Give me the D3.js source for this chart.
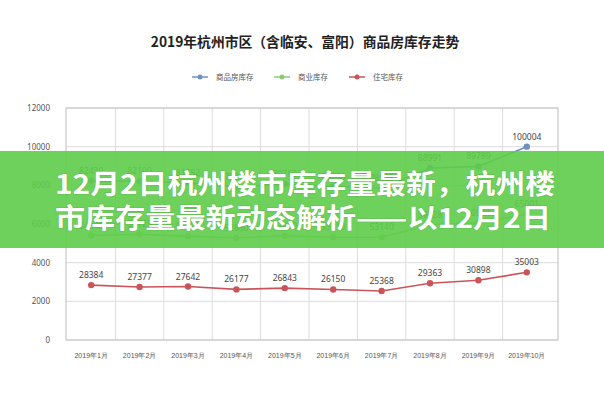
<!DOCTYPE html>
<html><head><meta charset="utf-8">
<script src="https://cdn.jsdelivr.net/npm/d3@7/dist/d3.min.js"></script>
<style>
html,body{margin:0;padding:0;background:#fff;}
svg{display:block;font-family:"Noto Sans CJK SC","Noto Sans",sans-serif;}
</style></head>
<body>
<svg id="c" width="604" height="400"></svg>
<script>
const title = "2019年杭州市区（含临安、富阳）商品房库存走势";
const banner = ["12月2日杭州楼市库存量最新，杭州楼", "市库存量最新动态解析——以12月2日"];
const months = ["2019年1月","2019年2月","2019年3月","2019年4月","2019年5月","2019年6月","2019年7月","2019年8月","2019年9月","2019年10月"];
const seriesNames = ["商品房库存","商业库存","住宅库存"];
const totalLabels = [82430, 82100, 81252, 79057, 80763, 79260, 78508, 88991, 89789, 100004];
const commercialLabels = [54046, 54723, 53610, 52880, 53920, 53110, 53140, 59628, 60591, 65001];
const residentialLabels = [28384, 27377, 27642, 26177, 26843, 26150, 25368, 29363, 30898, 35003];
const yTicks = [0, 2000, 4000, 6000, 8000, 10000, 12000];
const colors = ["#7090c0", "#8cc878", "#c9555a"];

const svg = d3.select("#c");
const L = 66, R = 558, T = 108, B = 340;
const x = d3.scaleBand().domain(months).range([67, 551]);
const y = d3.scaleLinear().domain([0, 12000]).range([B, T]);

// title
svg.append("text").attr("x", 305).attr("y", 47).attr("text-anchor", "middle")
  .attr("font-size", 13.8).attr("font-weight", "bold").attr("fill", "#222").text(title);

// legend
const legX = [200, 282, 357];
seriesNames.forEach((n, i) => {
  const g = svg.append("g").attr("transform", `translate(${legX[i]},77)`);
  g.append("line").attr("x1", -8).attr("x2", 8).attr("stroke", colors[i]).attr("stroke-width", 1.5);
  g.append("circle").attr("r", 2.5).attr("fill", colors[i]);
  g.append("text").attr("x", 16).attr("y", 2.5).attr("font-size", 7.5).attr("fill", "#555").text(n);
});

// grid
const grid = svg.append("g");
yTicks.forEach(t => {
  grid.append("line").attr("x1", L).attr("x2", R).attr("y1", y(t)).attr("y2", y(t))
    .attr("stroke", "#dcdcdc").attr("stroke-width", 1);
});
months.forEach((m, i) => {
  if (i === 0) return;
  grid.append("line").attr("x1", x(m)).attr("x2", x(m)).attr("y1", T).attr("y2", B)
    .attr("stroke", "#dcdcdc").attr("stroke-width", 1);
});
grid.append("rect").attr("x", L).attr("y", T).attr("width", R - L).attr("height", B - T)
  .attr("fill", "none").attr("stroke", "#c8c8c8").attr("stroke-width", 1.2);

// y axis
const yAxis = d3.axisLeft(y).tickValues(yTicks).tickSize(0).tickPadding(16).tickFormat(d3.format("d"));
const ya = svg.append("g").attr("transform", `translate(${L},0)`).call(yAxis);
ya.select(".domain").remove();
ya.selectAll("text").attr("font-size", 8).attr("fill", "#555").attr("font-family", "Noto Sans, sans-serif");

// x axis
const xAxis = d3.axisBottom(x).tickSize(0).tickPadding(13);
const xa = svg.append("g").attr("transform", `translate(0,${B})`).call(xAxis);
xa.select(".domain").remove();
xa.selectAll("text").attr("font-size", 7).attr("fill", "#555");

// series
const data = [totalLabels, commercialLabels, residentialLabels];
const cx = m => x(m) + x.bandwidth() / 2;
data.forEach((vals, si) => {
  const pts = vals.map((v, i) => ({ m: months[i], v: v / 10, label: v }));
  svg.append("path").datum(pts)
    .attr("d", d3.line().x(d => cx(d.m)).y(d => y(d.v)))
    .attr("fill", "none").attr("stroke", colors[si]).attr("stroke-width", 1.6);
  svg.selectAll(null).data(pts).enter().append("circle")
    .attr("cx", d => cx(d.m)).attr("cy", d => y(d.v)).attr("r", 3.2).attr("fill", colors[si]);
  svg.selectAll(null).data(pts).enter().append("text")
    .attr("x", d => cx(d.m)).attr("y", d => y(d.v) - 7).attr("text-anchor", "middle")
    .attr("font-size", 8.5).attr("fill", "#444").attr("font-family", "Noto Sans, sans-serif")
    .text(d => d.label);
});

// banner overlay
svg.append("rect").attr("x", 0).attr("y", 151).attr("width", 604).attr("height", 97)
  .attr("fill", "#5ecc4a").attr("opacity", 0.9);
const by = [194, 228];
const bx = [[55, 500], [55, 496]];
banner.forEach((t, i) => {
  svg.append("text").attr("x", bx[i][0]).attr("y", by[i])
    .attr("textLength", bx[i][1]).attr("lengthAdjust", "spacingAndGlyphs")
    .attr("font-size", 27).attr("font-weight", "bold").attr("fill", "#fff")
    .attr("style", "paint-order:stroke").attr("stroke", "rgba(40,110,30,0.2)").attr("stroke-width", 1.2)
    .text(t);
});
</script>
</body></html>
